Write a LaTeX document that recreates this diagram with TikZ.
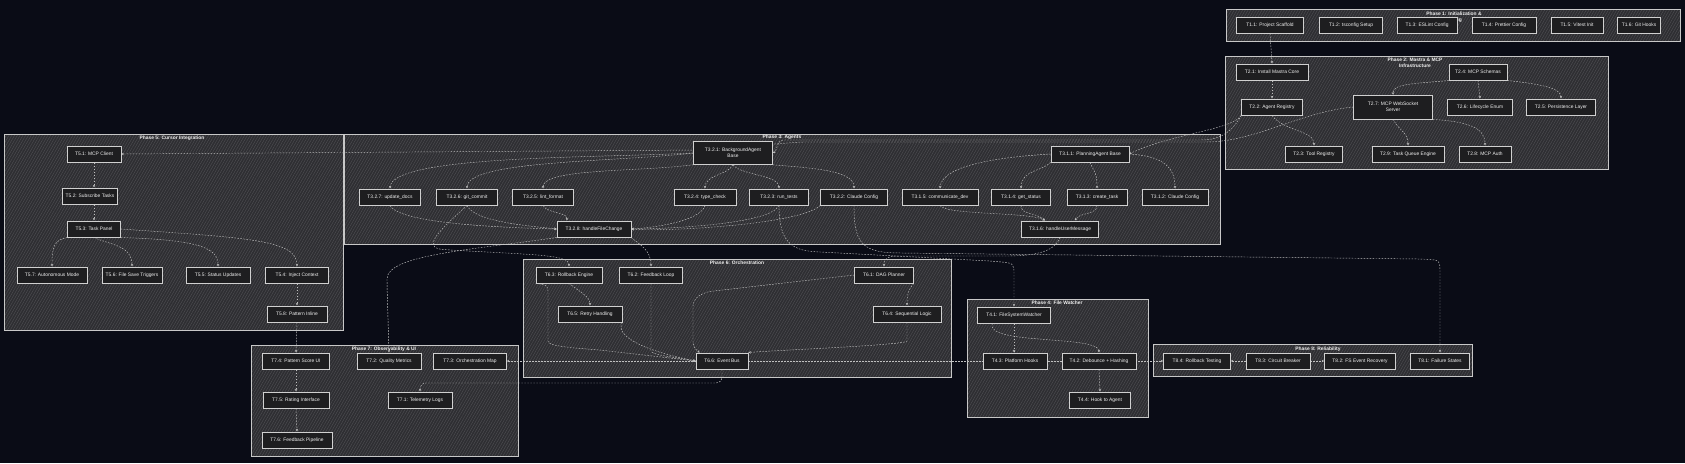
\documentclass[tikz,border=0pt]{standalone}
\usepackage{fontspec}
\newfontfamily\dgmfont{Liberation Sans}
\usetikzlibrary{arrows.meta,patterns.meta}
\definecolor{bgc}{HTML}{0A0C16}
\definecolor{clfill}{HTML}{2E2E32}
\definecolor{clhatch}{HTML}{4C4C50}
\definecolor{clline}{HTML}{C8C8C8}
\definecolor{ndfill}{HTML}{1E1E20}
\definecolor{ndline}{HTML}{D0D0D0}
\definecolor{txtc}{HTML}{F0F0F0}
\definecolor{edc}{HTML}{C0C0C0}
\pgfdeclarelayer{bgl}
\pgfdeclarelayer{edl}
\pgfsetlayers{bgl,edl,main}
\newcommand\dgmsize{\fontsize{4.9}{6}\selectfont}
\tikzset{
  nd/.style={draw=ndline, fill=ndfill, line width=0.5pt, text=txtc, font=\dgmfont\dgmsize, minimum height=16.5pt, inner xsep=1pt, inner ysep=1pt, align=center},
  ttl/.style={text=txtc, font=\dgmfont\bfseries\dgmsize, inner sep=0pt, align=center},
  cl/.style={draw=clline, line width=0.6pt},
  ed/.style={draw=edc, line width=0.45pt, dash pattern=on 1.6pt off 1.4pt, rounded corners=6pt, -{Stealth[length=2.6pt,width=2.4pt]}},
}
\newcommand\mkcluster[4]{%
  \fill[clfill] (#1,#2) rectangle (#3,#4);
  \fill[pattern={Lines[angle=60,distance=2.4pt,line width=0.5pt]}, pattern color=clhatch] (#1,#2) rectangle (#3,#4);
  \draw[cl] (#1,#2) rectangle (#3,#4);}
\begin{document}
\begin{tikzpicture}[x=1pt,y=-1pt]
\useasboundingbox (0,0) rectangle (1685,463);
\begin{pgfonlayer}{bgl}
\fill[bgc] (0,0) rectangle (1685,463);
\mkcluster{1226}{9}{1680}{41}
\node[ttl] (p1) at (1454,17) {Phase 1: Initialization \&\\Config};
\mkcluster{1225}{56}{1608}{169}
\node[ttl] (p2) at (1415,63) {Phase 2: Mastra \& MCP\\Infrastructure};
\mkcluster{4}{134}{343}{330}
\node[ttl] (p5) at (172,138) {Phase 5: Cursor Integration};
\mkcluster{344}{134}{1220}{244}
\node[ttl] (p3) at (782,137.5) {Phase 3: Agents};
\mkcluster{523}{259}{951}{377}
\node[ttl] (p6) at (737,263) {Phase 6: Orchestration};
\mkcluster{251}{345}{518}{456}
\node[ttl] (p7) at (384,349) {Phase 7: Observability \& UI};
\mkcluster{967}{299}{1148}{417}
\node[ttl] (p4) at (1057,302.5) {Phase 4: File Watcher};
\mkcluster{1153}{344}{1472}{376}
\node[ttl] (p8) at (1318,349) {Phase 8: Reliability};
\end{pgfonlayer}
% Phase 1
\node[nd,minimum width=67pt] (t11) at (1270,25) {T1.1: Project Scaffold};
\node[nd,minimum width=63pt] (t12) at (1351,25) {T1.2: tsconfig Setup};
\node[nd,minimum width=60pt] (t13) at (1427,25) {T1.3: ESLint Config};
\node[nd,minimum width=64pt] (t14) at (1504,25) {T1.4: Prettier Config};
\node[nd,minimum width=52pt] (t15) at (1577,25) {T1.5: Vitest Init};
\node[nd,minimum width=43pt] (t16) at (1639,25) {T1.6: Git Hooks};
% Phase 2
\node[nd,minimum width=72pt] (t21) at (1272,72) {T2.1: Install Mastra Core};
\node[nd,minimum width=58pt] (t24) at (1478,72) {T2.4: MCP Schemas};
\node[nd,minimum width=61pt] (t22) at (1272,107) {T2.2: Agent Registry};
\node[nd,minimum width=79pt,minimum height=24pt] (t27) at (1393,107) {T2.7: MCP WebSocket\\Server};
\node[nd,minimum width=65pt] (t26) at (1480,107) {T2.6: Lifecycle Enum};
\node[nd,minimum width=69pt] (t25) at (1561,107) {T2.5: Persistence Layer};
\node[nd,minimum width=57pt] (t23) at (1314,154) {T2.3: Tool Registry};
\node[nd,minimum width=72pt] (t29) at (1408,154) {T2.9: Task Queue Engine};
\node[nd,minimum width=52pt] (t28) at (1485,154) {T2.8: MCP Auth};
% Phase 5
\node[nd,minimum width=54pt] (t51) at (94,154) {T5.1: MCP Client};
\node[nd,minimum width=55pt] (t52) at (90,196) {T5.2: Subscribe Tasks};
\node[nd,minimum width=53pt] (t53) at (94,229) {T5.3: Task Panel};
\node[nd,minimum width=70pt] (t57) at (52,275) {T5.7: Autonomous Mode};
\node[nd,minimum width=60pt] (t56) at (132,275) {T5.6: File Save Triggers};
\node[nd,minimum width=64pt] (t55) at (218,275) {T5.5: Status Updates};
\node[nd,minimum width=63pt] (t54) at (297,275) {T5.4: Inject Context};
\node[nd,minimum width=60pt] (t58) at (297,314) {T5.8: Pattern Inline};
% Phase 3
\node[nd,minimum width=79pt,minimum height=23pt] (t321) at (733,153) {T3.2.1: BackgroundAgent\\Base};
\node[nd,minimum width=61pt] (t327) at (390,197) {T3.2.7: update\_docs};
\node[nd,minimum width=61pt] (t326) at (467,197) {T3.2.6: git\_commit};
\node[nd,minimum width=61pt] (t325) at (543,197) {T3.2.5: lint\_format};
\node[nd,minimum width=62pt] (t324) at (705,197) {T3.2.4: type\_check};
\node[nd,minimum width=59pt] (t323) at (779,197) {T3.2.3: run\_tests};
\node[nd,minimum width=67pt] (t322) at (854,197) {T3.2.2: Claude Config};
\node[nd,minimum width=76pt] (t315) at (940,197) {T3.1.5: communicate\_dev};
\node[nd,minimum width=59pt] (t314) at (1021,197) {T3.1.4: get\_status};
\node[nd,minimum width=60pt] (t313) at (1097,197) {T3.1.3: create\_task};
\node[nd,minimum width=66pt] (t312) at (1175,197) {T3.1.2: Claude Config};
\node[nd,minimum width=78pt] (t311) at (1090,154) {T3.1.1: PlanningAgent Base};
\node[nd,minimum width=74pt] (t328) at (594,229) {T3.2.8: handleFileChange};
\node[nd,minimum width=77pt] (t316) at (1060,229) {T3.1.6: handleUserMessage};
% Phase 6
\node[nd,minimum width=66pt] (t63) at (569,275) {T6.3: Rollback Engine};
\node[nd,minimum width=63pt] (t62) at (651,275) {T6.2: Feedback Loop};
\node[nd,minimum width=59pt] (t61) at (884,275) {T6.1: DAG Planner};
\node[nd,minimum width=64pt] (t65) at (590,314) {T6.5: Retry Handling};
\node[nd,minimum width=68pt] (t64) at (907,314) {T6.4: Sequential Logic};
\node[nd,minimum width=52pt] (t66) at (722,361) {T6.6: Event Bus};
% Phase 7
\node[nd,minimum width=67pt] (t74) at (296,361) {T7.4: Pattern Score UI};
\node[nd,minimum width=64pt] (t72) at (389,361) {T7.2: Quality Metrics};
\node[nd,minimum width=73pt] (t73) at (470,361) {T7.3: Orchestration Map};
\node[nd,minimum width=66pt] (t75) at (296,400) {T7.5: Rating Interface};
\node[nd,minimum width=64pt] (t71) at (420,400) {T7.1: Telemetry Logs};
\node[nd,minimum width=70pt] (t76) at (297,440) {T7.6: Feedback Pipeline};
% Phase 4
\node[nd,minimum width=73pt] (t41) at (1014,315) {T4.1: FileSystemWatcher};
\node[nd,minimum width=64pt] (t43) at (1015,361) {T4.3: Platform Hooks};
\node[nd,minimum width=74pt] (t42) at (1099,361) {T4.2: Debounce + Hashing};
\node[nd,minimum width=61pt] (t44) at (1100,400) {T4.4: Hook to Agent};
% Phase 8
\node[nd,minimum width=67pt] (t84) at (1197,361) {T8.4: Rollback Testing};
\node[nd,minimum width=64pt] (t83) at (1278,361) {T8.3: Circuit Breaker};
\node[nd,minimum width=71pt] (t82) at (1360,361) {T8.2: FS Event Recovery};
\node[nd,minimum width=59pt] (t81) at (1440,361) {T8.1: Failure States};

\begin{pgfonlayer}{edl}
% phase 1 -> 2
\draw[ed] (t11.south) -- (t21.north);
% phase 2
\draw[ed] (t21.south) -- (t22.north);
\draw[ed] (t24.south west) .. controls (1410,84) and (1393,84) .. (t27.north);
\draw[ed] (t24.south) -- (t26.north);
\draw[ed] (t24.south east) .. controls (1540,84) and (1561,88) .. (t25.north);
\draw[ed] (t22.south) .. controls (1285,132) and (1314,130) .. (t23.north);
\draw[ed] (t27.south) .. controls (1400,132) and (1408,132) .. (t29.north);
\draw[ed] (t27.south east) .. controls (1470,122) and (1485,128) .. (t28.north);
% phase 2 -> 3, 5
\draw[ed] (t22.south west) .. controls (1232,130) and (1170,134) .. (t311.east);
\draw[ed] (t22.south west) .. controls (1230,136) and (1215,140) .. (1195,140) -- (790,140) .. controls (776,140) and (778,150) .. (t321.east);
\draw[ed] (t27.west) .. controls (1300,112) and (1255,142) .. (1200,142) -- (800,142) -- (700,150) -- (t51.east);
% phase 3 internal
\draw[ed] (t321.west) .. controls (600,158) and (392,155) .. (t327.north);
\draw[ed] (t321.west) .. controls (620,162) and (467,160) .. (t326.north);
\draw[ed] (t321.south west) .. controls (640,172) and (543,168) .. (t325.north);
\draw[ed] (t321.south) .. controls (728,175) and (705,175) .. (t324.north);
\draw[ed] (t321.south) .. controls (740,175) and (779,175) .. (t323.north);
\draw[ed] (t321.south east) .. controls (810,168) and (854,170) .. (t322.north);
\draw[ed] (t327.south) .. controls (400,225) and (520,228) .. (t328.west);
\draw[ed] (t326.south) .. controls (475,222) and (530,226) .. (t328.west);
\draw[ed] (t325.south) .. controls (548,214) and (568,212) .. ([xshift=10pt]t328.north west);
\draw[ed] (t324.south) .. controls (700,222) and (650,228) .. (t328.east);
\draw[ed] (t323.south) .. controls (770,225) and (660,229) .. (t328.east);
\draw[ed] (t322.south west) .. controls (800,225) and (660,232) .. (t328.east);
\draw[ed] (t311.west) .. controls (1000,157) and (942,165) .. (t315.north);
\draw[ed] (t311.south west) .. controls (1040,172) and (1022,170) .. (t314.north);
\draw[ed] (t311.south) .. controls (1094,172) and (1097,172) .. (t313.north);
\draw[ed] (t311.east) .. controls (1160,156) and (1175,165) .. (t312.north);
\draw[ed] (t315.south) .. controls (945,215) and (1030,212) .. ([xshift=-15pt]t316.north);
\draw[ed] (t314.south) .. controls (1021,215) and (1035,212) .. ([xshift=-15pt]t316.north);
\draw[ed] (t313.south) .. controls (1097,215) and (1080,212) .. ([xshift=15pt]t316.north);
% phase 5 internal
\draw[ed] (t51.south) -- (t51.south |- t52.north);
\draw[ed] (t53.north |- t52.south) -- (t53.north);
\draw[ed] (t53.south west) .. controls (55,240) and (52,245) .. (t57.north);
\draw[ed] (t53.south) .. controls (110,245) and (132,245) .. (t56.north);
\draw[ed] (t53.south east) .. controls (200,240) and (218,248) .. (t55.north);
\draw[ed] (t53.east) .. controls (250,238) and (297,240) .. (t54.north);
\draw[ed] (t54.south) -- (t58.north);
\draw[ed] (t58.south) -- (t74.north);
% phase 7
\draw[ed] (t74.south) -- (t75.north);
\draw[ed] (t75.south) -- (t76.north);
% phase 3 -> 6, 7, 4, 8
\draw[ed] (t328.south west) .. controls (470,250) and (387,255) .. (387,285) -- (t72.north);
\draw[ed] (t326.south) .. controls (440,230) and (420,248) .. (450,250) .. controls (540,255) and (569,255) .. (t63.north);
\draw[ed] (t328.south east) .. controls (640,245) and (651,250) .. (t62.north);
\draw[ed] (t316.south) .. controls (1055,250) and (1040,256) .. (1000,256) -- (905,256) .. controls (886,256) and (884,260) .. (t61.north);
\draw[ed] (t323.south) .. controls (779,240) and (790,250) .. (820,252) -- (990,261) .. controls (1014,263) .. (1014,280) -- (t41.north);
\draw[ed] (t322.south) .. controls (854,240) and (860,252) .. (900,253) -- (1420,259) .. controls (1440,260) .. (1440,280) -- (t81.north);
% phase 6 internal
\draw[ed] (t62.south) -- (651,345) .. controls (651,355) and (680,358) .. (t66.west);
\draw[ed] (t63.south) .. controls (585,295) and (590,298) .. (t65.north);
\draw[ed] (t63.south west) .. controls (548,285) .. (548,300) -- (548,335) .. controls (548,345) and (560,347) .. (600,350) -- (t66.west);
\draw[ed] (t65.south east) .. controls (615,335) and (640,350) .. (t66.west);
\draw[ed] (t61.west) -- (705,292) -- (693,300) -- (693,348) -- ([xshift=4pt]t66.north west);
\draw[ed] (t61.south east) .. controls (908,290) and (907,295) .. (t64.north);
\draw[ed] (t64.south) -- (907,335) .. controls (907,345) and (780,350) .. (t66.north east);
% phase 6 -> 7, 8
\draw[ed] (t66.west) -- (t73.east);
\draw[ed] (t66.south) -- (722,383) -- (420,383) -- (t71.north);
\draw[ed] (t66.east) -- (t84.west);
% phase 4
\draw[ed] (t41.south) -- (t41.south |- t43.north);
\draw[ed] ([xshift=15pt]t41.south west) .. controls (985,345) and (1098,335) .. (t42.north);
\draw[ed] (t42.south) -- (t44.north);
% phase 8
\draw[ed] (t83.west) -- (t84.east);
\draw[ed] (t83.east) -- (t82.west);
\end{pgfonlayer}
\end{tikzpicture}
\end{document}
